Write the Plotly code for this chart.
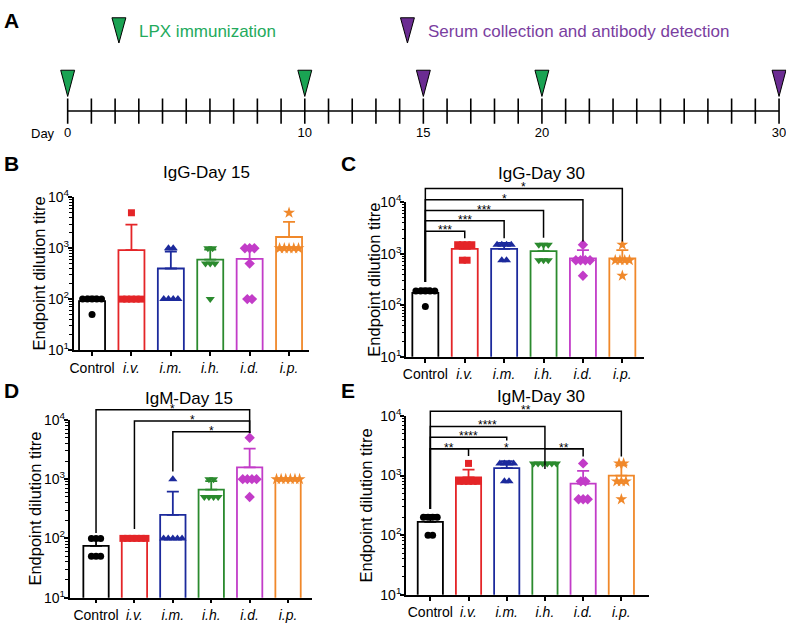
import numpy as np
import plotly.graph_objects as go

W, H = 787, 627
FONT = "Liberation Sans, Arial, Helvetica, sans-serif"

# ---------------- Panel A : timeline data ----------------
timeline_days = list(range(0, 31))
immunization_days = [0, 10, 20]
collection_days = [15, 30]
labelled_days = [0, 10, 15, 20, 30]
legend_immunization = "LPX immunization"
legend_collection = "Serum collection and antibody detection"

# ---------------- Panels B-E : titres ----------------
groups = ["Control", "i.v.", "i.m.", "i.h.", "i.d.", "i.p."]
group_labels = ["Control", "<i>i.v.</i>", "<i>i.m.</i>", "<i>i.h.</i>", "<i>i.d.</i>", "<i>i.p.</i>"]
y_tick_values = [10, 100, 1000, 10000]
y_tick_labels = ["10<sup>1</sup>", "10<sup>2</sup>", "10<sup>3</sup>", "10<sup>4</sup>"]

igg_day15 = [
    [100, 100, 100, 100, 100, 50],
    [100, 100, 100, 100, 100, 5000],
    [100, 100, 100, 100, 1000, 1000],
    [1000, 1000, 500, 500, 500, 100],
    [1000, 1000, 1000, 500, 100, 100],
    [1000, 1000, 1000, 1000, 1000, 5000],
]
igg_day30 = [
    [190, 190, 190, 190, 190, 95],
    [1500, 1500, 1500, 1500, 750, 750],
    [1500, 1500, 1500, 1500, 750, 750],
    [1500, 1500, 1500, 750, 750, 750],
    [1500, 750, 750, 750, 750, 375],
    [1500, 750, 750, 750, 750, 375],
]
igm_day15 = [
    [100, 100, 100, 50, 50, 50],
    [100, 100, 100, 100, 100, 100],
    [100, 100, 100, 100, 100, 1000],
    [1000, 1000, 500, 500, 500, 500],
    [5000, 1000, 1000, 1000, 1000, 500],
    [1000, 1000, 1000, 1000, 1000, 1000],
]
igm_day30 = [
    [200, 200, 200, 200, 100, 100],
    [1600, 800, 800, 800, 800, 800],
    [1600, 1600, 1600, 1600, 800, 800],
    [1600, 1600, 1600, 1600, 1600, 1600],
    [1600, 800, 800, 400, 400, 400],
    [1600, 1600, 800, 800, 800, 400],
]

# significance brackets: (group a, group b, level log10, leg a bottom, leg b bottom, label, label x)
brackets_igg_day30 = [
    (0, 1, 3.44, 2.45, 3.30, "***", 0.5),
    (0, 2, 3.64, 2.45, 3.30, "***", 1.0),
    (0, 3, 3.84, 2.45, 3.31, "***", 1.5),
    (0, 4, 4.05, 2.45, 3.24, "*", 2.0),
    (0, 5, 4.27, 2.45, 3.24, "*", 2.5),
]
brackets_igm_day15 = [
    (0, 4, 4.17, 2.09, 3.78, "*", 2.0),
    (1, 4, 3.98, 2.16, 3.78, "*", 2.5),
    (2, 4, 3.80, 3.13, 3.78, "*", 3.0),
]
brackets_igm_day30 = [
    (0, 5, 4.08, 2.44, 3.32, "**", 2.5),
    (0, 3, 3.825, 2.44, 3.11, "****", 1.5),
    (0, 2, 3.645, 2.44, 3.59, "****", 1.0),
    (0, 1, 3.45, 2.44, 3.33, "**", 0.5),
    (0, 4, 3.45, 2.44, 3.32, "*", 2.0),
    (3, 4, 3.45, 3.45, 3.45, "**", 3.5),
]

# ---------------- styles ----------------
colors = ["#000000", "#E42528", "#1C2A9C", "#2B8A2E", "#C23CC8", "#F0882A"]
symbols = ["circle", "square", "triangle-up", "triangle-down", "diamond", "star"]
msizes = [7, 7, 8, 8, 8, 9]
GREEN_TRI, GREEN_TXT = "#1AA353", "#23AA5C"
PURPLE_TRI, PURPLE_TXT = "#6B2C92", "#7A3E9F"


def pxx(x):
    return x / W


def pxy(y):
    return 1 - y / H


def paper_text(text, x, y, size, color="black", xanchor="center", angle=0):
    return dict(text=text, x=pxx(x), y=pxy(y), xref="paper", yref="paper", xanchor=xanchor,
                yanchor="middle", textangle=angle, showarrow=False,
                font=dict(size=size, color=color, family=FONT))


fig = go.Figure()
annotations = []
layout_axes = {}

# ================= Panel A =================
A_X0, A_X1 = 64.0, 779.0
day_px = (A_X1 - A_X0) / 30.0
a_range = [-2.6, 30.3]
layout_axes["xaxis"] = dict(domain=[pxx(A_X0 + a_range[0] * day_px), pxx(A_X0 + a_range[1] * day_px)],
                            range=a_range, visible=False, anchor="y", fixedrange=True)
layout_axes["yaxis"] = dict(domain=[pxy(170), 1.0], range=[-170, 0], visible=False, anchor="x", fixedrange=True)

LINE_Y, TICK_TOP, TICK_BOT = -104, -91, -117
fig.add_trace(go.Scatter(x=[timeline_days[0], timeline_days[-1]], y=[LINE_Y, LINE_Y], mode="lines",
                         line=dict(color="black", width=1.6), xaxis="x", yaxis="y", showlegend=False, hoverinfo="skip"))
tx, ty = [], []
for d in timeline_days:
    tx += [d, d, None]
    ty += [TICK_TOP, TICK_BOT, None]
fig.add_trace(go.Scatter(x=tx, y=ty, mode="lines", line=dict(color="black", width=1.6),
                         xaxis="x", yaxis="y", showlegend=False, hoverinfo="skip"))

hw = 7.0 / day_px


def tri_trace(days, top, tip, fillc):
    xs, ys = [], []
    for d in days:
        xs += [d - hw, d + hw, d, d - hw, None]
        ys += [top, top, tip, top, None]
    return go.Scatter(x=xs, y=ys, mode="lines", fill="toself", fillcolor=fillc,
                      line=dict(color="black", width=1), xaxis="x", yaxis="y",
                      showlegend=False, hoverinfo="skip")


fig.add_trace(tri_trace(immunization_days, -62, -89, GREEN_TRI))
fig.add_trace(tri_trace(collection_days, -62, -89, PURPLE_TRI))
# legend triangles
fig.add_trace(tri_trace([(115.5 - A_X0) / day_px], -8, -34, GREEN_TRI))
fig.add_trace(tri_trace([(405.5 - A_X0) / day_px], -8, -34, PURPLE_TRI))

fig.add_trace(go.Scatter(x=labelled_days, y=[-127] * len(labelled_days), mode="text",
                         text=[str(d) for d in labelled_days],
                         textfont=dict(size=13, color="black", family=FONT),
                         xaxis="x", yaxis="y", showlegend=False, hoverinfo="skip"))
annotations.append(paper_text("Day", 39.5, 127, 13))
annotations.append(paper_text(legend_immunization, 134, 22, 17, GREEN_TXT, xanchor="left"))
annotations.append(paper_text(legend_collection, 424, 22, 17, PURPLE_TXT, xanchor="left"))
annotations.append(paper_text("<b>A</b>", 8, 11, 21))

# ================= Panels B-E =================
panels = [
    dict(data=igg_day15, title="IgG-Day 15", letter="B", left=70, right=307, c0=88.5, sp=39.6,
         ytop=193, ybot=350, title_xy=(204, 167), letter_xy=(8, 158), ytitle_x=35, brackets=None, ext=None),
    dict(data=igg_day30, title="IgG-Day 30", letter="C", left=404, right=643, c0=423.5, sp=39.6,
         ytop=198, ybot=357, title_xy=(540, 168), letter_xy=(346, 158), ytitle_x=371,
         brackets=brackets_igg_day30, ext=170),
    dict(data=igm_day15, title="IgM-Day 15", letter="D", left=66, right=310, c0=92.5, sp=38.6,
         ytop=422, ybot=605, title_xy=(186, 400), letter_xy=(8, 392), ytitle_x=31,
         brackets=brackets_igm_day15, ext=395),
    dict(data=igm_day30, title="IgM-Day 30", letter="E", left=404, right=648, c0=428.5, sp=38.4,
         ytop=418, ybot=602, title_xy=(540, 398), letter_xy=(346, 392), ytitle_x=364,
         brackets=brackets_igm_day30, ext=395),
]

minor_vals = [m * 10 ** d for d in range(1, 4) for m in range(2, 10)]
JIT = 0.12
extra_axis = 6

for i, p in enumerate(panels):
    n = i + 2
    xa, ya = f"x{n}", f"y{n}"
    xr = [(p["left"] - p["c0"]) / p["sp"], (p["right"] - p["c0"]) / p["sp"]]
    xdom = [pxx(p["left"]), pxx(p["right"])]
    layout_axes[f"xaxis{n}"] = dict(
        domain=xdom, range=xr, anchor=ya, tickmode="array", tickvals=list(range(len(groups))),
        ticktext=group_labels, ticks="outside", ticklen=4, tickwidth=1.5, tickcolor="black",
        showline=True, linewidth=1.6, linecolor="black", showgrid=False, zeroline=False,
        tickfont=dict(size=14, color="black", family=FONT), fixedrange=True)
    layout_axes[f"yaxis{n}"] = dict(
        domain=[pxy(p["ybot"]), pxy(p["ytop"])], type="log", range=[1, 4], anchor=xa,
        tickmode="array", tickvals=y_tick_values, ticktext=y_tick_labels, ticks="outside",
        ticklen=4, tickwidth=1.5, tickcolor="black", showline=True, linewidth=1.6, linecolor="black",
        ticklabelstandoff=-4,
        showgrid=False, zeroline=False, tickfont=dict(size=14, color="black", family=FONT),
        minor=dict(tickmode="array", tickvals=minor_vals, ticks="outside", ticklen=2.5, tickwidth=1,
                   tickcolor="black", showgrid=False),
        fixedrange=True)

    for g, vals in enumerate(p["data"]):
        v = np.array(vals, dtype=float)
        mean = v.mean()
        sd = v.std(ddof=1)
        fig.add_trace(go.Bar(
            x=[g], y=[mean], width=0.66, xaxis=xa, yaxis=ya, showlegend=False, hoverinfo="skip",
            marker=dict(color="white", line=dict(color=colors[g], width=1.8)),
            error_y=dict(type="data", symmetric=False, array=[sd], arrayminus=[0],
                         color=colors[g], thickness=1.8, width=6)))
        # spread identical values horizontally
        offs = np.zeros(len(v))
        for val in np.unique(v):
            idx = np.where(v == val)[0]
            k = len(idx)
            offs[idx] = (np.arange(k) - (k - 1) / 2.0) * JIT
        fig.add_trace(go.Scatter(
            x=g + offs, y=v, mode="markers", xaxis=xa, yaxis=ya, showlegend=False, hoverinfo="skip",
            cliponaxis=False,
            marker=dict(symbol=symbols[g], size=msizes[g], color=colors[g], line=dict(width=0))))

    annotations.append(paper_text(p["title"], p["title_xy"][0], p["title_xy"][1], 17))
    annotations.append(paper_text("<b>" + p["letter"] + "</b>", p["letter_xy"][0], p["letter_xy"][1], 21))
    annotations.append(paper_text("Endpoint dilution titre", p["ytitle_x"], (p["ytop"] + p["ybot"]) / 2.0,
                                  16.5, angle=-90))

    # significance brackets on an invisible, taller twin subplot (so they are not clipped)
    if p["brackets"]:
        m = extra_axis
        extra_axis += 1
        bxa, bya = f"x{m}", f"y{m}"
        decade_px = (p["ybot"] - p["ytop"]) / 3.0
        top_log = 1 + (p["ybot"] - p["ext"]) / decade_px
        layout_axes[f"xaxis{m}"] = dict(domain=xdom, range=xr, visible=False, anchor=bya, fixedrange=True)
        layout_axes[f"yaxis{m}"] = dict(domain=[pxy(p["ybot"]), pxy(p["ext"])], type="log",
                                        range=[1, top_log], visible=False, anchor=bxa, fixedrange=True)
        bx, by = [], []
        for (a, b, lev, la, lb, lab, lx) in p["brackets"]:
            bx += [a, a, b, b, None]
            by += [10 ** la, 10 ** lev, 10 ** lev, 10 ** lb, None]
            annotations.append(dict(text=lab, x=lx, y=lev, xref=bxa, yref=bya, xanchor="center",
                                    yanchor="middle", yshift=1, showarrow=False,
                                    font=dict(size=12, color="black", family=FONT)))
        fig.add_trace(go.Scatter(x=bx, y=by, mode="lines", line=dict(color="black", width=1.5),
                                 xaxis=bxa, yaxis=bya, showlegend=False, hoverinfo="skip"))

fig.update_layout(
    width=W, height=H, margin=dict(l=0, r=0, t=0, b=0),
    paper_bgcolor="white", plot_bgcolor="rgba(0,0,0,0)",
    barmode="overlay", hovermode=False, showlegend=False,
    font=dict(family=FONT, color="black"),
    annotations=annotations, **layout_axes)

fig.write_html("out.html", config={"displayModeBar": False},
               post_script="document.body.style.margin='0px';")
